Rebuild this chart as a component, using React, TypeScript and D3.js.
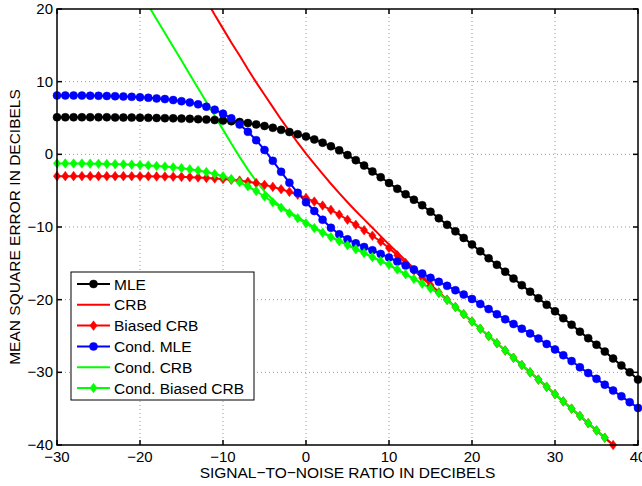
import * as d3 from "d3";

// SNR grid (dB) for the marker curves
const snrDb = [
  -30, -29, -28, -27, -26, -25, -24, -23, -22, -21, -20, -19, -18, -17, -16, -15, -14, -13, -12, -11,
  -10, -9, -8, -7, -6, -5, -4, -3, -2, -1, 0, 1, 2, 3, 4, 5, 6, 7, 8, 9,
  10, 11, 12, 13, 14, 15, 16, 17, 18, 19, 20, 21, 22, 23, 24, 25, 26, 27, 28, 29,
  30, 31, 32, 33, 34, 35, 36, 37, 38, 39, 40,
];

const mle = [
  5.1, 5.1, 5.1, 5.1, 5.1, 5.1, 5.1, 5.08, 5.07, 5.06, 5.05, 5.03, 5.0, 4.98, 4.95, 4.92, 4.88, 4.84, 4.78, 4.72,
  4.65, 4.56, 4.45, 4.3, 4.12, 3.9, 3.65, 3.37, 3.07, 2.77, 2.45, 2.05, 1.6, 1.1, 0.55, -0.1, -0.8, -1.55, -2.35, -3.15,
  -3.95, -4.75, -5.5, -6.25, -7.0, -7.9, -8.8, -9.7, -10.6, -11.5, -12.4, -13.35, -14.3, -15.2, -16.15, -17.1, -18.0, -18.9, -19.8, -20.7,
  -21.6, -22.55, -23.45, -24.4, -25.3, -26.2, -27.15, -28.1, -29.05, -30.0, -31.0,
];

const condMle = [
  8.1, 8.1, 8.1, 8.08, 8.07, 8.05, 8.03, 8.0, 7.96, 7.91, 7.85, 7.78, 7.7, 7.6, 7.47, 7.32, 7.13, 6.88, 6.55, 6.15,
  5.6, 4.95, 4.1, 3.1, 1.95, 0.6, -0.9, -2.4, -3.9, -5.3, -6.6, -7.8, -9.0, -10.1, -11.0, -11.7, -12.25, -12.75, -13.2, -13.7,
  -14.2, -14.75, -15.3, -15.85, -16.4, -17.0, -17.55, -18.1, -18.7, -19.3, -19.9, -20.6, -21.3, -22.0, -22.7, -23.35, -24.0, -24.65, -25.35, -26.1,
  -26.85, -27.65, -28.45, -29.3, -30.1, -30.9, -31.7, -32.5, -33.3, -34.1, -34.9,
];

// Biased CRB: -30 .. 37 dB
const biasedCrb = [
  -3.0, -3.0, -3.0, -3.0, -3.0, -3.0, -3.0, -3.0, -3.0, -3.01, -3.01, -3.02, -3.04, -3.06, -3.08, -3.1, -3.14, -3.19, -3.25, -3.32,
  -3.4, -3.5, -3.62, -3.77, -3.96, -4.2, -4.48, -4.8, -5.16, -5.56, -6.0, -6.5, -7.05, -7.65, -8.3, -9.0, -9.7, -10.45, -11.2, -12.0,
  -12.9, -13.9, -14.95, -16.0, -17.0, -18.0, -19.0, -20.0, -21.0, -22.0, -23.0, -24.0, -25.0, -26.0, -27.0, -28.0, -29.0, -30.0, -31.0, -32.0,
  -33.0, -34.0, -35.0, -36.0, -37.0, -38.0, -39.0, -40.0,
];

// Cond. Biased CRB: -30 .. 36 dB
const condBiasedCrb = [
  -1.25, -1.25, -1.26, -1.27, -1.28, -1.3, -1.32, -1.35, -1.38, -1.42, -1.47, -1.53, -1.6, -1.68, -1.78, -1.9, -2.05, -2.22, -2.43, -2.7,
  -3.02, -3.4, -3.85, -4.4, -5.05, -5.8, -6.6, -7.35, -8.1, -8.8, -9.5, -10.15, -10.8, -11.4, -11.95, -12.5, -13.05, -13.6, -14.15, -14.7,
  -15.2, -15.85, -16.5, -17.15, -17.8, -18.45, -19.1, -20.05, -21.02, -22.0, -23.0, -24.0, -25.0, -26.0, -27.0, -28.0, -29.0, -30.0, -31.0, -32.0,
  -33.0, -34.0, -35.0, -36.0, -37.0, -38.0, -39.0,
];

// CRB line: -12 .. 37 dB
const crbSnr = [
  -12, -11, -10, -9, -8, -7, -6, -5, -4, -3, -2, -1, 0, 1, 2, 3, 4, 5, 6, 7, 8, 9, 10, 11, 12, 13, 14, 15, 16, 17,
  18, 19, 20, 21, 22, 23, 24, 25, 26, 27, 28, 29, 30, 31, 32, 33, 34, 35, 36, 37,
];
const crb = [
  21.2, 19.2, 17.3, 15.4, 13.6, 11.7, 9.9, 8.2, 6.5, 4.8, 3.2, 1.6, 0.1, -1.3, -2.7, -4.05, -5.35, -6.6, -7.8, -8.95,
  -10.1, -11.25, -12.4, -13.5, -14.6, -15.7, -16.8, -17.9, -18.95, -20.0, -21.0, -22.0, -23.0, -24.0, -25.0, -26.0, -27.0, -28.0, -29.0, -30.0,
  -31.0, -32.0, -33.0, -34.0, -35.0, -36.0, -37.0, -38.0, -39.0, -40.0,
];

// Cond. CRB line: -19 .. 36 dB
const condCrbSnr = [
  -19, -18, -17, -16, -15, -14, -13, -12, -11, -10, -9, -8, -7, -6, -5, -4, -3, -2, -1, 0, 1, 2, 3, 4, 5, 6, 7, 8,
  9, 10, 11, 12, 13, 14, 15, 16, 17, 18, 19, 20, 21, 22, 23, 24, 25, 26, 27, 28, 29, 30, 31, 32, 33, 34, 35, 36,
];
const condCrb = [
  20.5, 18.6, 16.7, 14.8, 12.9, 11.0, 9.1, 7.2, 5.3, 3.4, 1.5, -0.35, -2.1, -3.7, -5.1, -6.25, -7.2, -7.95, -8.65, -9.35,
  -10.05, -10.7, -11.33, -11.9, -12.47, -13.03, -13.58, -14.13, -14.68, -15.2, -15.85, -16.5, -17.15, -17.8, -18.45, -19.1, -20.05, -21.02, -22.0, -23.0,
  -24.0, -25.0, -26.0, -27.0, -28.0, -29.0, -30.0, -31.0, -32.0, -33.0, -34.0, -35.0, -36.0, -37.0, -38.0, -39.0,
];

const xTicks = [-30, -20, -10, 0, 10, 20, 30, 40];
const yTicks = [-40, -30, -20, -10, 0, 10, 20];

type Series = {
  name: string;
  color: string;
  marker: "circle" | "diamond" | null;
  xs: number[];
  ys: number[];
};

const series: Series[] = [
  { name: "MLE", color: "#000000", marker: "circle", xs: snrDb, ys: mle },
  { name: "CRB", color: "#ff0000", marker: null, xs: crbSnr, ys: crb },
  { name: "Biased CRB", color: "#ff0000", marker: "diamond", xs: snrDb, ys: biasedCrb },
  { name: "Cond. MLE", color: "#0000ff", marker: "circle", xs: snrDb, ys: condMle },
  { name: "Cond. CRB", color: "#00ff00", marker: null, xs: condCrbSnr, ys: condCrb },
  { name: "Cond. Biased CRB", color: "#00ff00", marker: "diamond", xs: snrDb, ys: condBiasedCrb },
];

const width = 642;
const height = 486;
const marginLeft = 57;
const marginRight = 4;
const marginTop = 9;
const marginBottom = 41;
const font = "'Liberation Sans', Arial, Helvetica, sans-serif";

function Marker({ kind, x, y, color }: { kind: string; x: number; y: number; color: string }) {
  if (kind === "circle") return <circle cx={x} cy={y} r={4} fill={color} stroke={color} strokeWidth={0.5} />;
  return (
    <path
      d={`M${x},${y - 4.8}L${x + 3.6},${y}L${x},${y + 4.8}L${x - 3.6},${y}Z`}
      fill={color}
      stroke={color}
      strokeWidth={0.5}
    />
  );
}

export default function App() {
  const x = d3.scaleLinear().domain([-30, 40]).range([marginLeft, width - marginRight]);
  const y = d3.scaleLinear().domain([-40, 20]).range([height - marginBottom, marginTop]);
  const [x0, x1] = x.range();
  const [y0, y1] = y.range();

  const line = (xs: number[], ys: number[]) =>
    d3
      .line<number>()
      .x((_, i) => x(xs[i]))
      .y((d) => y(d))(ys) ?? "";

  const legendX = 71;
  const legendY = 272;
  const rowH = 20.8;

  return (
    <div style={{ position: "absolute", left: 0, top: 0 }}>
      <svg width={width} height={height} viewBox={`0 0 ${width} ${height}`} style={{ display: "block", background: "#fff" }}>
        <defs>
          <clipPath id="plot">
            <rect x={x0} y={y1} width={x1 - x0} height={y0 - y1} />
          </clipPath>
        </defs>
        <rect width={width} height={height} fill="#fff" />

        {/* grid */}
        <g stroke="#999" strokeWidth={1} strokeDasharray="1,3">
          {xTicks.slice(1, -1).map((t) => (
            <line key={"gx" + t} x1={x(t)} x2={x(t)} y1={y1} y2={y0} />
          ))}
          {yTicks.slice(1, -1).map((t) => (
            <line key={"gy" + t} x1={x0} x2={x1} y1={y(t)} y2={y(t)} />
          ))}
        </g>

        {/* curves */}
        <g clipPath="url(#plot)" fill="none" strokeWidth={2}>
          {series.map((s) => (
            <path key={s.name} d={line(s.xs, s.ys)} stroke={s.color} />
          ))}
        </g>
        {series.map((s) =>
          s.marker ? (
            <g key={s.name + "m"}>
              {s.ys.map((v, i) => (
                <Marker key={i} kind={s.marker as string} x={x(s.xs[i])} y={y(v)} color={s.color} />
              ))}
            </g>
          ) : null
        )}

        {/* axes box and ticks */}
        <rect x={x0} y={y1} width={x1 - x0} height={y0 - y1} fill="none" stroke="#000" strokeWidth={1.5} />
        <g stroke="#000" strokeWidth={1.5}>
          {xTicks.map((t) => (
            <g key={"tx" + t}>
              <line x1={x(t)} x2={x(t)} y1={y0} y2={y0 - 5} />
              <line x1={x(t)} x2={x(t)} y1={y1} y2={y1 + 5} />
            </g>
          ))}
          {yTicks.map((t) => (
            <g key={"ty" + t}>
              <line x1={x0} x2={x0 + 5} y1={y(t)} y2={y(t)} />
              <line x1={x1} x2={x1 - 5} y1={y(t)} y2={y(t)} />
            </g>
          ))}
        </g>

        {/* tick labels */}
        <g fontFamily={font} fontSize={15} fill="#000">
          {xTicks.map((t) => (
            <text key={"lx" + t} x={x(t)} y={y0 + 17} textAnchor="middle">
              {t < 0 ? "\u2212" + Math.abs(t) : String(t)}
            </text>
          ))}
          {yTicks.map((t) => (
            <text key={"ly" + t} x={x0 - 4} y={y(t) + 5} textAnchor="end">
              {t < 0 ? "\u2212" + Math.abs(t) : String(t)}
            </text>
          ))}
        </g>
        <g fontFamily={font} fontSize={15.5} fill="#000">
          <text x={(x0 + x1) / 2} y={478} textAnchor="middle">
            SIGNAL−TO−NOISE RATIO IN DECIBELS
          </text>
          <text transform={`translate(20,${(y0 + y1) / 2}) rotate(-90)`} textAnchor="middle">
            MEAN SQUARE ERROR IN DECIBELS
          </text>
        </g>

        {/* legend */}
        <g>
          <rect x={legendX} y={legendY} width={183} height={128} fill="#fff" stroke="#000" strokeWidth={1} />
          {series.map((s, i) => {
            const cy = legendY + 12 + i * rowH;
            return (
              <g key={"lg" + s.name}>
                <line x1={legendX + 6} x2={legendX + 39} y1={cy} y2={cy} stroke={s.color} strokeWidth={2} />
                {s.marker && <Marker kind={s.marker} x={legendX + 22.5} y={cy} color={s.color} />}
                <text x={legendX + 43} y={cy + 5.5} fontFamily={font} fontSize={15.5} fill="#000">
                  {s.name}
                </text>
              </g>
            );
          })}
        </g>
      </svg>
    </div>
  );
}
